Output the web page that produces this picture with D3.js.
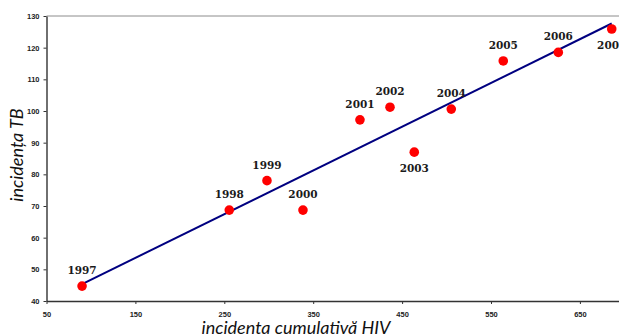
<!DOCTYPE html>
<html>
<head>
<meta charset="utf-8">
<script src="https://cdn.jsdelivr.net/npm/d3@7"></script>
<style>
  body { margin: 0; background: #fff; }
  svg { display: block; }
</style>
</head>
<body>
<script>
// HIV cumulative incidence vs TB incidence, 1997-2007

let w = 619
let h = 336

let years = ["1997", "1998", "1999", "2000", "2001", "2002", "2003", "2004", "2005", "2006", "2007"]
let hivValues = [90, 255.6, 298, 338.5, 402.6, 436.4, 463.7, 505.3, 563.8, 625.7, 685.8]
let tbValues = [44.7, 68.7, 78.0, 68.7, 97.2, 101.2, 87.0, 100.6, 115.8, 118.5, 125.9]
let xTicks = [50, 150, 250, 350, 450, 550, 650]
let yTicks = [40, 50, 60, 70, 80, 90, 100, 110, 120, 130]

// labels that sit under their point instead of above
let labelsBelow = ["2003", "2007"]

let dataset = years.map((yr, i) => ({ year: yr, x: hivValues[i], y: tbValues[i] }))

let x = d3.scaleLinear().domain([50, 750]).range([46.5, 668.8])
let y = d3.scaleLinear().domain([40, 130]).range([301, 16])

let svg = d3.select("body")
    .append("svg")
    .attr("width", w)
    .attr("height", h)

// top border of plot area
svg.append("line")
    .attr("x1", x(50)).attr("x2", w)
    .attr("y1", y(130)).attr("y2", y(130))
    .attr("stroke", "#8c8c8c")
    .attr("stroke-width", 1)

let xAxis = svg.append("g")
    .attr("transform", `translate(0,${y(40)})`)
    .call(d3.axisBottom(x).tickValues(xTicks).tickSize(3).tickPadding(7.5).tickSizeOuter(0))

let yAxis = svg.append("g")
    .attr("transform", `translate(${x(50)},0)`)
    .call(d3.axisLeft(y).tickValues(yTicks).tickSize(3).tickPadding(4).tickSizeOuter(0))

;[xAxis, yAxis].forEach(g => {
    g.select(".domain").attr("stroke", "#333").attr("stroke-width", 1.4)
    g.selectAll(".tick line").attr("stroke", "#333").attr("stroke-width", 1)
    g.selectAll("text")
        .attr("font-family", "'Liberation Sans', Arial, sans-serif")
        .attr("font-weight", "bold")
        .attr("font-size", "7.5px")
        .attr("fill", "#222")
})

// least squares trend line
let mx = d3.mean(hivValues)
let my = d3.mean(tbValues)
let slope = d3.sum(dataset, d => (d.x - mx) * (d.y - my)) / d3.sum(dataset, d => (d.x - mx) ** 2)
let icpt = my - slope * mx
let xr = d3.extent(hivValues)

svg.append("path")
    .datum(xr.map(v => [v, icpt + slope * v]))
    .attr("d", d3.line().x(d => x(d[0])).y(d => y(d[1])))
    .attr("fill", "none")
    .attr("stroke", "#000080")
    .attr("stroke-width", 2)

svg.selectAll("circle")
    .data(dataset)
    .enter()
    .append("circle")
        .attr("cx", d => x(d.x))
        .attr("cy", d => y(d.y))
        .attr("r", 4.8)
        .attr("fill", "#ff0000")

svg.selectAll("text.lbl")
    .data(dataset)
    .enter()
    .append("text")
    .attr("class", "lbl")
    .text(d => d.year)
    .attr("x", d => x(d.x))
    .attr("y", d => y(d.y) + (labelsBelow.includes(d.year) ? 20 : -12))
    .attr("text-anchor", "middle")
    .attr("font-family", "'DejaVu Serif', serif")
    .attr("font-weight", "bold")
    .attr("font-size", "10.5px")
    .attr("fill", "#1a1a1a")

// axis titles
svg.append("text")
    .text("incidenta cumulativă HIV")
    .attr("x", 296)
    .attr("y", 334.3)
    .attr("text-anchor", "middle")
    .attr("font-family", "Lato, 'Open Sans', sans-serif")
    .attr("font-style", "italic")
    .attr("font-size", "18px")
    .attr("fill", "#111")

svg.append("text")
    .text("incidența TB")
    .attr("transform", "translate(23,155) rotate(-90)")
    .attr("text-anchor", "middle")
    .attr("font-family", "Lato, 'Open Sans', sans-serif")
    .attr("font-style", "italic")
    .attr("font-size", "18px")
    .attr("fill", "#111")
</script>
</body>
</html>
